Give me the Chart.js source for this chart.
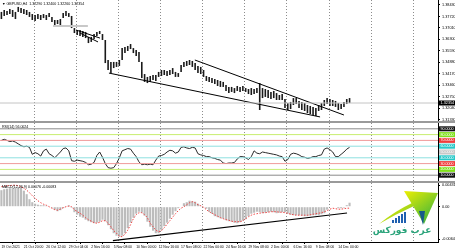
<!DOCTYPE html>
<html><head><meta charset="utf-8">
<script src="https://cdn.jsdelivr.net/npm/chart.js@4.4.0/dist/chart.umd.min.js"></script>
<style>
html,body{margin:0;padding:0;background:#fff;}
#wrap{position:relative;width:455px;height:250px;overflow:hidden;background:#fff;}
canvas{position:absolute;left:0;}
.sep{position:absolute;left:0;width:455px;height:2px;background:#9a9a9a;}
</style></head><body>
<div id="wrap">
<canvas id="cMain" width="455" height="121" style="top:0px;width:455px;height:121px"></canvas>
<div class="sep" style="top:121px"></div>
<canvas id="cRsi" width="455" height="58" style="top:123px;width:455px;height:58px"></canvas>
<div class="sep" style="top:181px"></div>
<canvas id="cMacd" width="455" height="67" style="top:183px;width:455px;height:67px"></canvas>
</div>
<script>
// ---------- data (8-hour steps) ----------
const symbolName = 'GBPUSD,H4';
const headerQuote = ['1.32290','1.32400','1.32260','1.32354'];
const bidPrice = 1.32354;
const priceHigh = [1.3800,1.3812,1.3806,1.3818,1.3812,1.3800,1.3831,1.3824,1.3818,1.3812,
1.3800,1.3787,1.3781,1.3787,1.3781,1.3787,1.3781,1.3793,1.3769,1.3750,
1.3750,1.3756,1.3793,1.3806,1.3793,1.3775,1.3700,1.3688,1.3688,1.3682,
1.3676,1.3645,1.3645,1.3663,1.3676,1.3682,1.3663,1.3626,1.3502,1.3490,
1.3490,1.3490,1.3502,1.3576,1.3583,1.3589,1.3601,1.3576,1.3564,1.3552,
1.3490,1.3415,1.3397,1.3403,1.3409,1.3409,1.3428,1.3440,1.3440,1.3434,
1.3440,1.3452,1.3428,1.3421,1.3471,1.3490,1.3496,1.3502,1.3496,1.3483,
1.3465,1.3459,1.3440,1.3403,1.3397,1.3390,1.3384,1.3378,1.3372,1.3366,
1.3347,1.3335,1.3335,1.3328,1.3341,1.3335,1.3341,1.3328,1.3322,1.3328,
1.3322,1.3328,1.3359,1.3328,1.3322,1.3316,1.3304,1.3310,1.3297,1.3285,
1.3291,1.3260,1.3235,1.3242,1.3266,1.3266,1.3248,1.3242,1.3235,1.3223,
1.3217,1.3211,1.3204,1.3223,1.3235,1.3254,1.3266,1.3260,1.3254,1.3248,
1.3235,1.3229,1.3242,1.3260,1.3266];
const priceLow = [1.3756,1.3775,1.3781,1.3787,1.3769,1.3756,1.3800,1.3793,1.3787,1.3781,
1.3769,1.3750,1.3744,1.3756,1.3750,1.3762,1.3750,1.3769,1.3738,1.3719,
1.3725,1.3719,1.3762,1.3775,1.3769,1.3700,1.3669,1.3657,1.3651,1.3645,
1.3638,1.3607,1.3614,1.3632,1.3651,1.3663,1.3626,1.3483,1.3440,1.3421,
1.3452,1.3459,1.3465,1.3502,1.3545,1.3558,1.3570,1.3545,1.3527,1.3490,
1.3390,1.3366,1.3359,1.3366,1.3378,1.3372,1.3397,1.3403,1.3409,1.3403,
1.3409,1.3415,1.3397,1.3397,1.3428,1.3459,1.3465,1.3471,1.3459,1.3440,
1.3421,1.3415,1.3397,1.3372,1.3366,1.3359,1.3353,1.3341,1.3335,1.3335,
1.3310,1.3297,1.3304,1.3297,1.3310,1.3304,1.3310,1.3304,1.3291,1.3285,
1.3291,1.3297,1.3192,1.3266,1.3273,1.3266,1.3260,1.3266,1.3254,1.3254,
1.3254,1.3204,1.3192,1.3198,1.3223,1.3229,1.3204,1.3192,1.3186,1.3173,
1.3167,1.3161,1.3155,1.3186,1.3192,1.3217,1.3229,1.3217,1.3217,1.3211,
1.3192,1.3198,1.3211,1.3229,1.3235];
const rsiValues = [70,72,70,68,69,67,64,61,59,60,
58,46,49,47,43,52,55,47,44,40,
45,50,56,57,52,35,34,36,35,34,
32,28,29,32,44,50,41,30,23,22,
23,30,40,52,54,56,55,48,42,33,
28,29,28,29,28,36,43,44,46,50,
53,52,48,50,58,59,57,56,58,57,
47,45,44,42,42,40,39,37,36,31,
30,31,31,32,38,42,42,40,37,42,
52,48,47,50,49,48,47,46,45,43,
42,34,37,46,48,47,45,42,41,39,
40,42,42,44,45,55,57,54,50,42,
42,46,50,55,58];
const macdValues = [0.0033,0.0035,0.0036,0.0037,0.0037,0.0038,0.0039,0.0039,0.0032,0.0025,
0.0015,0.0009,0.0006,0.0004,0.0003,0.0003,0.0002,0.0001,-0.0002,-0.0006,
-0.0009,-0.0007,-0.0003,0.0001,0.0003,-0.0002,-0.0011,-0.0016,-0.0020,-0.0022,
-0.0026,-0.0029,-0.0031,-0.0033,-0.0032,-0.0030,-0.0026,-0.0029,-0.0037,-0.0045,
-0.0053,-0.0058,-0.0060,-0.0058,-0.0053,-0.0043,-0.0032,-0.0022,-0.0014,-0.0010,
-0.0012,-0.0018,-0.0030,-0.0040,-0.0048,-0.0053,-0.0053,-0.0047,-0.0039,-0.0032,
-0.0024,-0.0016,-0.0009,-0.0003,0.0001,0.0007,0.0009,0.0012,0.0011,0.0010,
0.0006,0.0002,-0.0001,-0.0004,-0.0010,-0.0014,-0.0019,-0.0021,-0.0023,-0.0024,
-0.0027,-0.0029,-0.0030,-0.0032,-0.0033,-0.0031,-0.0028,-0.0025,-0.0019,-0.0014,
-0.0012,-0.0010,-0.0011,-0.0013,-0.0012,-0.0011,-0.0010,-0.0011,-0.0013,-0.0012,
-0.0011,-0.0011,-0.0014,-0.0016,-0.0017,-0.0017,-0.0017,-0.0018,-0.0019,-0.0019,
-0.0018,-0.0017,-0.0017,-0.0017,-0.0015,-0.0013,-0.0006,-0.0001,0.0001,-0.0001,
-0.0003,-0.0003,-0.0002,0.0003,0.0008];
const signalValues = [0.0040,0.0041,0.0042,0.0042,0.0043,0.0043,0.0042,0.0040,0.0037,0.0033,
0.0028,0.0022,0.0017,0.0012,0.0008,0.0005,0.0003,0.0000,-0.0003,-0.0006,
-0.0007,-0.0005,-0.0002,0.0000,0.0001,0.0000,-0.0006,-0.0010,-0.0013,-0.0017,
-0.0022,-0.0026,-0.0029,-0.0032,-0.0033,-0.0031,-0.0028,-0.0028,-0.0033,-0.0040,
-0.0048,-0.0053,-0.0059,-0.0060,-0.0055,-0.0047,-0.0036,-0.0024,-0.0016,-0.0012,
-0.0012,-0.0016,-0.0022,-0.0033,-0.0040,-0.0047,-0.0050,-0.0048,-0.0042,-0.0035,
-0.0028,-0.0021,-0.0014,-0.0008,-0.0003,0.0000,0.0004,0.0008,0.0010,0.0008,
0.0004,0.0002,-0.0001,-0.0006,-0.0010,-0.0013,-0.0016,-0.0019,-0.0022,-0.0024,
-0.0026,-0.0027,-0.0029,-0.0030,-0.0030,-0.0030,-0.0028,-0.0024,-0.0020,-0.0017,
-0.0015,-0.0014,-0.0013,-0.0012,-0.0012,-0.0011,-0.0010,-0.0010,-0.0010,-0.0011,
-0.0011,-0.0012,-0.0013,-0.0015,-0.0016,-0.0017,-0.0017,-0.0017,-0.0017,-0.0017,
-0.0016,-0.0015,-0.0014,-0.0013,-0.0012,-0.0010,-0.0008,-0.0005,-0.0003,-0.0004,
-0.0005,-0.0005,-0.0004,-0.0003,-0.0003];
const dateLabels = ['19 Oct 2021','21 Oct 20:00','26 Oct 12:00','29 Oct 04:00','2 Nov 16:00','5 Nov 08:00',
'10 Nov 00:00','12 Nov 16:00','17 Nov 08:00','22 Nov 00:00','24 Nov 16:00','29 Nov 08:00',
'2 Dec 00:00','6 Dec 16:00','9 Dec 08:00','14 Dec 00:00'];
const priceTicks = [1.38430,1.37720,1.37010,1.36300,1.35590,1.34880,1.34170,1.33460,1.32750,1.32040,1.31330];
const rsiLevels = [90,80,70,60,50,40,30,20,10];
const macdTicks = [0.00431,0,-0.00648];
const rsiHeader = 'RSI(14) 56.0024';
const macdHeader = 'MACD(12,26,9) 0.00076 -0.00083';
// drawn trend lines (slot index, price)
const trendLower = [{x:38.3,y:1.3421},{x:113.5,y:1.3149}];
const trendUpper = [{x:68.9,y:1.3502},{x:122.0,y:1.3161}];
const wedgeA = [{x:26.6,y:1.3688},{x:35.1,y:1.3638}];
const wedgeB = [{x:28.0,y:1.3669},{x:34.4,y:1.3614}];
const grayMark = [{x:18.4,y:1.3713},{x:30.8,y:1.3713}];
const macdTrend = [{x:39.7,y:-0.0068},{x:123.1,y:-0.00126}];
const weekStarts = [11.5,26.5,41.5,56.5,71.5,86.5,101.5,116.5,131.5,146.5];

// ---------- layout constants ----------
const N_SLOTS = 156, DATE_STEP = 8, AXIS_W = 17;
const FONT = '"Liberation Sans", Arial, sans-serif';

function xAxis(show){
  const ax = {type:'linear', min:-0.5, max:N_SLOTS-0.5, display:show, offset:false,
    grid:{display:false}, border:{display:false}};
  if(show){
    Object.assign(ax,{
      afterBuildTicks:s=>{ s.ticks = dateLabels.map((_,i)=>({value:i*DATE_STEP})); },
      afterFit:s=>{ s.height = 8; s.paddingLeft = 0; s.paddingRight = 0; },
      ticks:{autoSkip:false, maxRotation:0, minRotation:0, align:'start', padding:1,
        font:{size:3.4, family:FONT}, color:'#000', callback:(v,i)=>dateLabels[i]},
      grid:{display:true, drawOnChartArea:false, drawTicks:true, tickLength:2, color:'#000'},
      border:{display:true, color:'#000', width:1}
    });
  }
  return ax;
}
function yAxis(min,max,ticks,fmt){
  return {type:'linear', position:'right', min, max,
    afterFit:s=>{ s.width = AXIS_W; s.paddingTop = 0; s.paddingBottom = 0; },
    afterBuildTicks:s=>{ s.ticks = ticks.map(v=>({value:v})); },
    ticks:{display:!!fmt, padding:2, font:{size:3.8, family:FONT}, color:'#000', callback:fmt||(()=>'')},
    grid:{display:true, drawOnChartArea:false, drawTicks:true, tickLength:2, color:'#000'},
    border:{display:true, color:'#000', width:1}};
}
const weekGrid = {id:'weekGrid', beforeDatasetsDraw(chart){
  const {ctx, chartArea:a, scales:{x}} = chart;
  ctx.save(); ctx.strokeStyle = '#8c8c8c'; ctx.lineWidth = 1; ctx.setLineDash([1,2]);
  weekStarts.forEach(w=>{ const px = Math.round(x.getPixelForValue(w))+0.5;
    ctx.beginPath(); ctx.moveTo(px,a.top); ctx.lineTo(px,a.bottom); ctx.stroke(); });
  ctx.restore();
}};
const base = {responsive:false, animation:false, events:[], devicePixelRatio:1,
  layout:{padding:0}, plugins:{legend:{display:false}, tooltip:{enabled:false}}};
function line(data,color,width,dash){
  return {type:'line', data, borderColor:color, borderWidth:width, borderDash:dash||[],
    pointRadius:0, fill:false, tension:0, order:0};
}

// ---------- main price chart ----------
const PMAX = 1.3874, PMIN = 1.31238;
new Chart(document.getElementById('cMain'), {
  type:'bar',
  data:{datasets:[
    line([{x:-0.5,y:bidPrice},{x:N_SLOTS-0.5,y:bidPrice}],'#c4c4c4',1),
    line(grayMark,'#c8c8c8',2),
    {type:'bar', data:priceHigh.map((h,i)=>({x:i,y:[priceLow[i],h]})), backgroundColor:'#1a1a1a',
      borderWidth:0, barThickness:1.6, inflateAmount:0, order:1},
    line(trendLower,'#000',1), line(trendUpper,'#000',1),
    line(wedgeA,'#000',1), line(wedgeB,'#000',1)
  ]},
  options:Object.assign({}, base, {scales:{
    x:xAxis(false),
    y:yAxis(PMIN,PMAX,priceTicks,v=>v.toFixed(5))
  }}),
  plugins:[weekGrid,{id:'mainText', afterDraw(chart){
    const ctx = chart.ctx, y = chart.scales.y;
    ctx.save(); ctx.font = '3.6px '+FONT; ctx.fillStyle = '#000'; ctx.textBaseline = 'middle';
    ctx.fillText('\u25BC '+symbolName+'  '+headerQuote.join(' '), 2, 4);
    const py = y.getPixelForValue(bidPrice);
    ctx.fillRect(439, py-2.5, 16, 5); ctx.fillStyle = '#fff'; ctx.font = '3.8px '+FONT;
    ctx.fillText(bidPrice.toFixed(5), 440.5, py);
    ctx.restore();
  }}]
});

// ---------- RSI ----------
const levelLine = {90:'#8a8a8a',80:'#c8ee70',70:'#f09a9a',60:'#8ee0e0',40:'#8ee0e0',30:'#f09a9a',20:'#c8ee70',10:'#8a8a8a'};
const levelBox = {90:'#111',80:'#7fe01a',70:'#f03c3c',60:'#28c8c8',50:'#c8c8c8',40:'#28c8c8',30:'#f03c3c',20:'#7fe01a',10:'#111'};
new Chart(document.getElementById('cRsi'), {
  type:'line',
  data:{datasets:[
    ...rsiLevels.filter(l=>levelLine[l]).map(l=>line([{x:-0.5,y:l},{x:N_SLOTS-0.5,y:l}],levelLine[l],1)),
    line(rsiValues.map((v,i)=>({x:i,y:v})),'#2a2a2a',1)
  ]},
  options:Object.assign({}, base, {scales:{x:xAxis(false), y:yAxis(0,100,[],null)}}),
  plugins:[weekGrid,{id:'rsiText', afterDraw(chart){
    const ctx = chart.ctx, y = chart.scales.y;
    ctx.save(); ctx.font = '3.6px '+FONT; ctx.textBaseline = 'middle';
    ctx.fillStyle = '#000'; ctx.fillText(rsiHeader, 2, 4);
    rsiLevels.forEach(l=>{ const py = y.getPixelForValue(l);
      ctx.fillStyle = levelBox[l]; ctx.fillRect(439, py-2.5, 16, 5);
      ctx.fillStyle = '#fff'; ctx.fillText(l.toFixed(4), 440.5, py); });
    ctx.restore();
  }}]
});

// ---------- MACD ----------
new Chart(document.getElementById('cMacd'), {
  type:'bar',
  data:{datasets:[
    {type:'bar', data:macdValues.map((v,i)=>({x:i,y:v})), backgroundColor:'#bcbcbc', borderWidth:0,
      barThickness:2.1, inflateAmount:0, order:2},
    line(signalValues.map((v,i)=>({x:i,y:v})),'#f04646',1,[1.5,1.5]),
    line(macdTrend,'#000',1.2)
  ]},
  options:Object.assign({}, base, {scales:{
    x:xAxis(true),
    y:yAxis(-0.00706,0.00474,macdTicks,v=>v===0?'0.00':v.toFixed(5))
  }}),
  plugins:[weekGrid,{id:'macdText', afterDraw(chart){
    const ctx = chart.ctx;
    ctx.save(); ctx.font = '3.6px '+FONT; ctx.textBaseline = 'middle'; ctx.fillStyle = '#000';
    ctx.fillText(macdHeader, 2, 3.5);
    // logo watermark
    const g = ctx.createLinearGradient(405,6,430,40);
    g.addColorStop(0,'#f2f000'); g.addColorStop(1,'#3cb43c');
    ctx.fillStyle = g; ctx.beginPath(); ctx.moveTo(404,8); ctx.lineTo(438,10); ctx.lineTo(424,41); ctx.closePath(); ctx.fill();
    ctx.beginPath(); ctx.moveTo(379,41); ctx.quadraticCurveTo(395,28,412,20); ctx.lineTo(414,23); ctx.quadraticCurveTo(396,31,379,41); ctx.fill();
    ctx.fillStyle = '#1f60b0';
    [3,5,7,9,11].forEach((h,i)=>ctx.fillRect(392+i*3,40-h,2,h));
    ctx.fillStyle = '#155a8a'; ctx.beginPath(); ctx.moveTo(419,28); ctx.lineTo(425,28); ctx.lineTo(423,42); ctx.closePath(); ctx.fill();
    ctx.font = 'bold 9px "DejaVu Sans"'; ctx.fillStyle = '#2aa37a'; ctx.textAlign = 'center';
    ctx.fillText('عرب فوركس', 402, 48);
    ctx.restore();
  }}]
});
</script>
</body></html>
